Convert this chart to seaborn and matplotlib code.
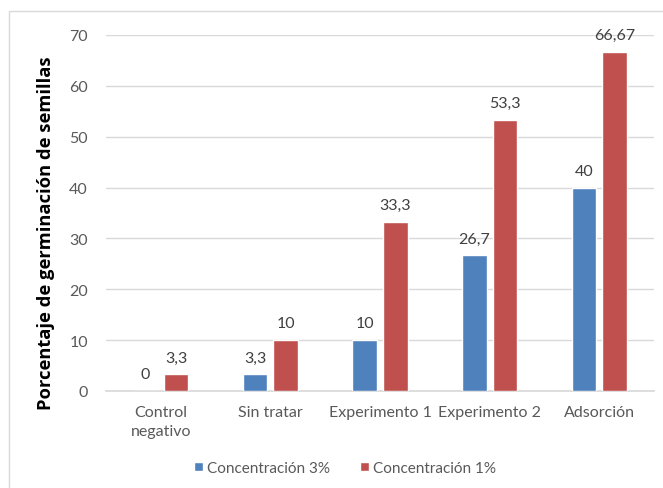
import matplotlib
matplotlib.use("Agg")
import matplotlib.pyplot as plt
import seaborn as sns
import pandas as pd
from matplotlib.patches import Rectangle

categories = ["Control\nnegativo", "Sin tratar", "Experimento 1", "Experimento 2", "Adsorción"]
series_names = ["Concentración 3%", "Concentración 1%"]
conc_3 = [0, 3.3, 10, 26.7, 40]
conc_1 = [3.3, 10, 33.3, 53.3, 66.67]
labels_3 = ["0", "3,3", "10", "26,7", "40"]
labels_1 = ["3,3", "10", "33,3", "53,3", "66,67"]
y_ticks = [0, 10, 20, 30, 40, 50, 60, 70]
colors = ["#4F81BD", "#C0504D"]

sns.set_theme(style="white")
plt.rcParams['font.family'] = ['Lato', 'DejaVu Sans']

df = pd.DataFrame({
    "Categoria": categories * 2,
    "Serie": [series_names[0]] * len(categories) + [series_names[1]] * len(categories),
    "Valor": conc_3 + conc_1,
})

fig = plt.figure(figsize=(6.63, 4.89), dpi=100)
ax = fig.add_axes([106 / 663, 1 - 392 / 489, (654 - 106) / 663, (392 - 36) / 489])

sns.barplot(data=df, x="Categoria", y="Valor", hue="Serie", palette=colors,
            width=0.56, gap=0.2, ax=ax, saturation=1, legend=True, zorder=3)

for cont, labs in zip(ax.containers, [labels_3, labels_1]):
    ax.bar_label(cont, labels=labs, padding=7, fontsize=11.5, color="#404040")

ax.set_ylim(0, 70)
ax.set_yticks(y_ticks)
ax.grid(axis="y", color="#D9D9D9", linewidth=1, zorder=0)
ax.set_axisbelow(True)
for s in ["top", "right", "left"]:
    ax.spines[s].set_visible(False)
ax.spines["bottom"].set_color("#D9D9D9")
ax.tick_params(axis="both", length=0, labelsize=11.5, labelcolor="#595959")
ax.tick_params(axis="y", pad=13)
ax.tick_params(axis="x", pad=10)
for t in ax.get_xticklabels():
    t.set_linespacing(1.45)
ax.set_xlabel("")
ax.set_ylabel("Porcentaje de germinación de semillas", fontsize=13.2, fontweight="bold",
              color="black", family=["Open Sans", "DejaVu Sans"])
ax.yaxis.set_label_coords(-0.093, 0.447)

leg = ax.legend(loc="center", bbox_to_anchor=(345 / 663, 1 - 469 / 489),
                bbox_transform=fig.transFigure, ncol=2, frameon=False,
                fontsize=11, handlelength=0.6, handleheight=0.6,
                handletextpad=0.25, columnspacing=2.0)
for t in leg.get_texts():
    t.set_color("#595959")

fig.patches.append(Rectangle((9 / 663, -0.1), 1.2, 1 - 12 / 489 + 0.1,
                             transform=fig.transFigure, fill=False,
                             edgecolor="#D9D9D9", linewidth=1))

fig.savefig("out.png", dpi=100, facecolor="white")
